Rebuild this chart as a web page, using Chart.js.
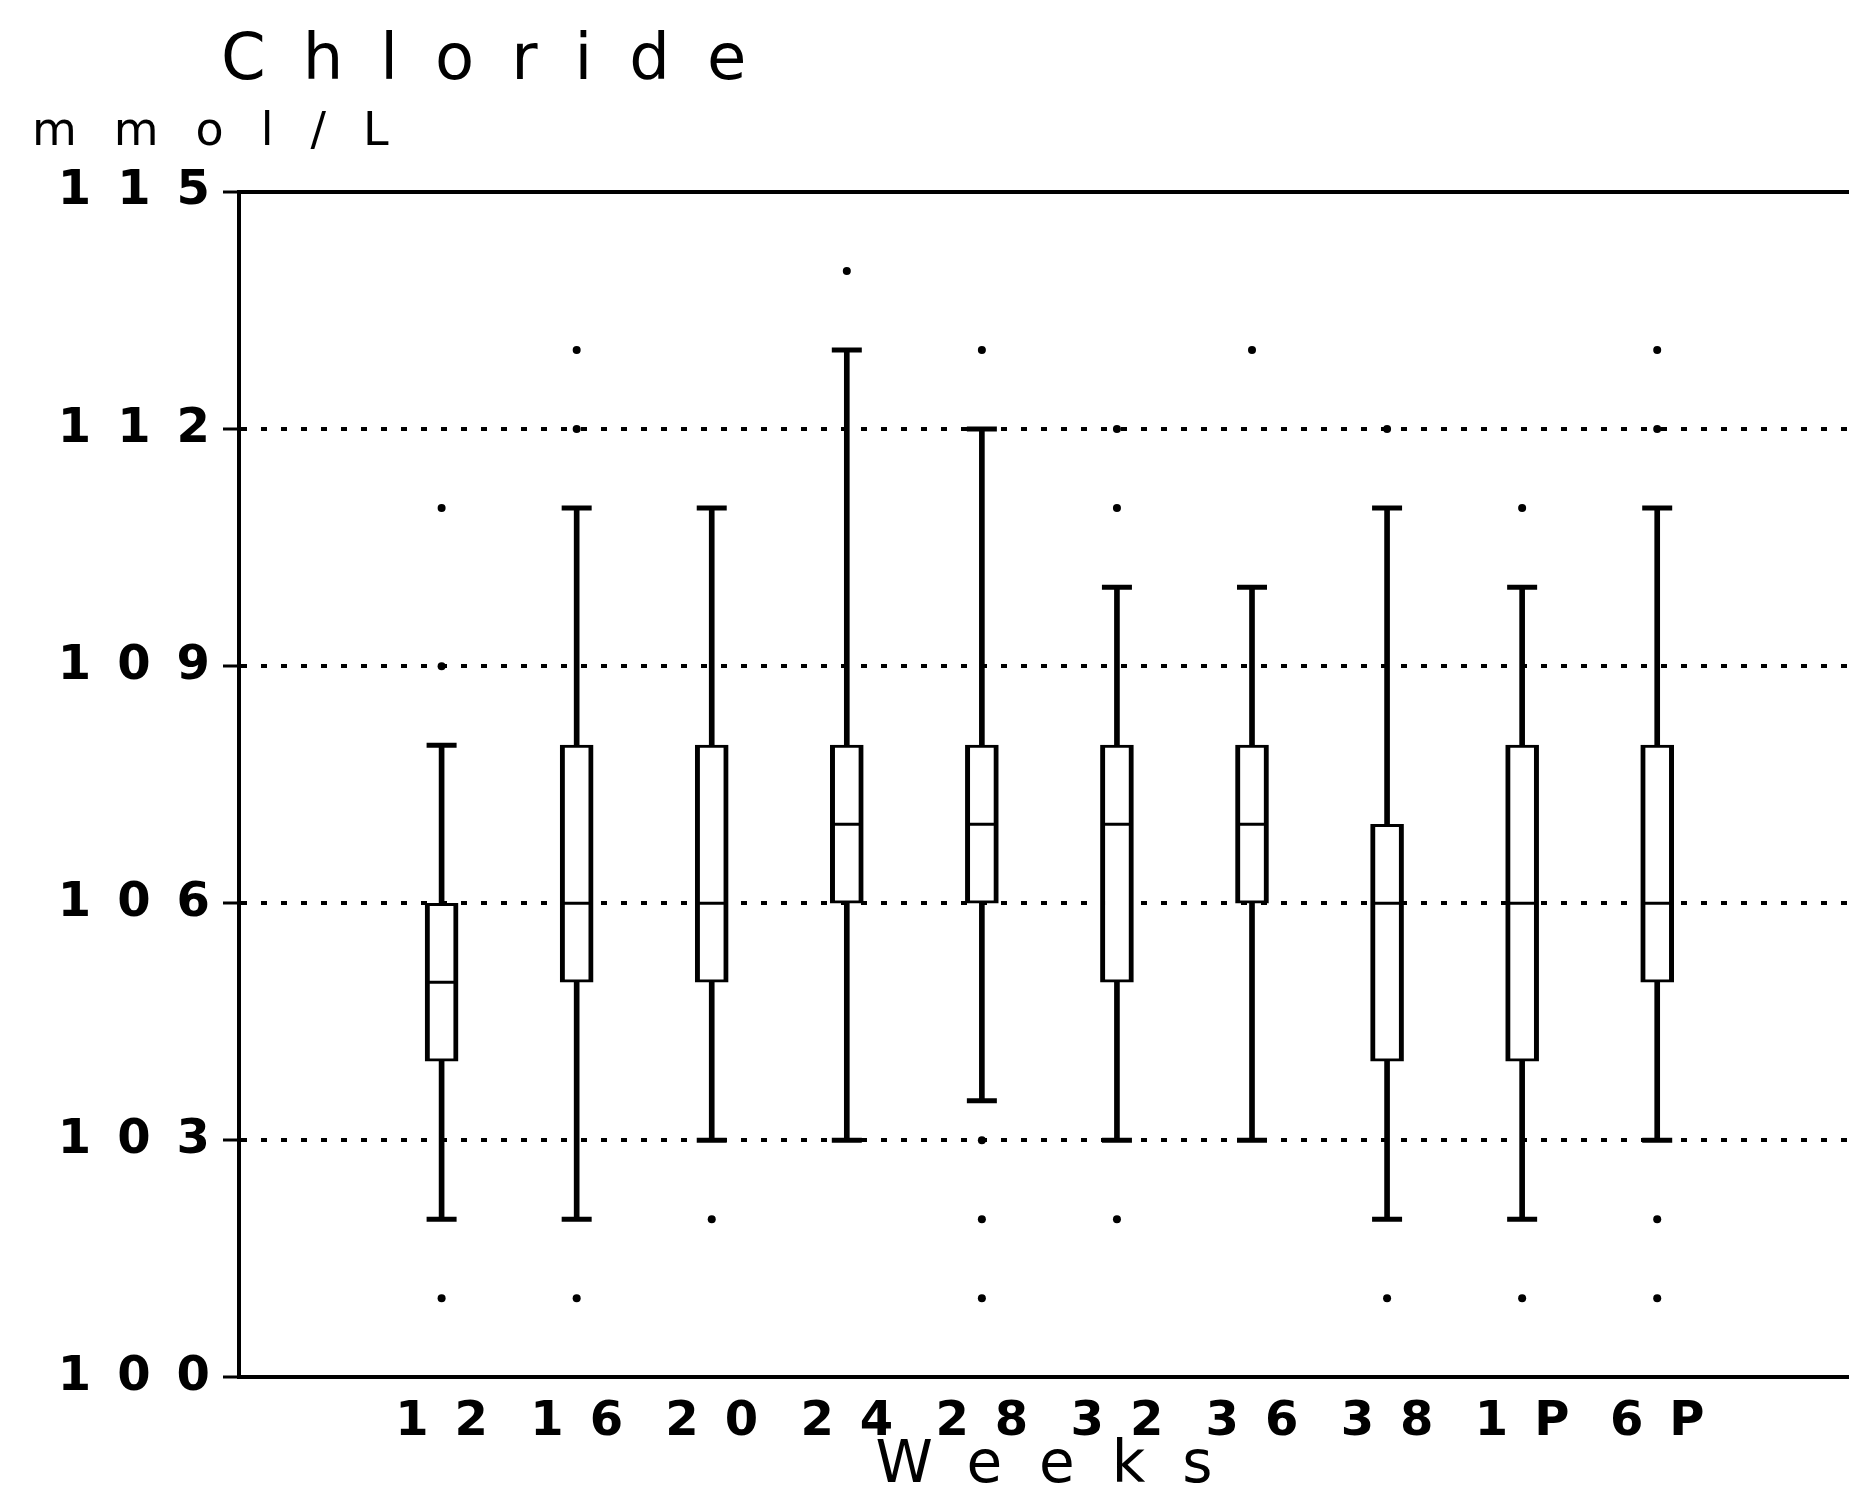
<!DOCTYPE html>
<html>
<head>
<meta charset="utf-8">
<title>Chloride</title>
<script src="https://cdn.jsdelivr.net/npm/chart.js@4.4.1/dist/chart.umd.min.js"></script>
<style>
    html, body { margin: 0; padding: 0; background: #fff; }
    canvas { display: block; }
</style>
</head>
<body>
<canvas id="chlorideChart" width="1849" height="1503"></canvas>
<script>
// weeks of pregnancy, 1P / 6P = postpartum
const weeks = ['12', '16', '20', '24', '28', '32', '36', '38', '1P', '6P'];

const whiskerLow  = [102, 102, 103, 103, 103.5, 103, 103, 102, 102, 103];
const quartile1   = [104, 105, 105, 106, 106,   105, 106, 104, 104, 105];
const medians     = [105, 106, 106, 107, 107,   107, 107, 106, 106, 106];
const quartile3   = [106, 108, 108, 108, 108,   108, 108, 107, 108, 108];
const whiskerHigh = [108, 111, 111, 113, 112,   110, 110, 111, 110, 111];
const outliers = [
    [101, 109, 111],
    [101, 112, 113],
    [102],
    [114],
    [101, 102, 103, 113],
    [102, 111, 112],
    [113],
    [101, 112],
    [101, 111],
    [101, 102, 112, 113]
];

const yTicks = [100, 103, 106, 109, 112, 115];

const FONT = "'DejaVu Sans', sans-serif";
const INK = '#000';
const TITLE_SPACING = 37;
const LABEL_SPACING = 26;

// the old plotter font is very wide, so fake it with canvas letterSpacing
function wrapDraw(obj, name, before) {
    if (!obj || obj['_wrapped_' + name]) return;
    const orig = obj[name];
    obj[name] = function (...args) {
        this.ctx.save();
        before(this.ctx);
        orig.apply(this, args);
        this.ctx.restore();
    };
    obj['_wrapped_' + name] = true;
}

const spacing = {
    id: 'spacing',
    beforeUpdate(chart) { chart.ctx.letterSpacing = TITLE_SPACING + 'px'; },
    afterUpdate(chart) {
        const { x, y } = chart.scales;
        // centred text carries one trailing space, push it back
        wrapDraw(x, 'drawLabels', ctx => {
            ctx.letterSpacing = LABEL_SPACING + 'px';
            ctx.translate(LABEL_SPACING / 2, 0);
        });
        wrapDraw(y, 'drawLabels', ctx => { ctx.letterSpacing = LABEL_SPACING + 'px'; });
        wrapDraw(x, 'drawTitle', ctx => { ctx.translate(TITLE_SPACING / 2, 0); });
        wrapDraw(chart.titleBlock, 'draw', ctx => { ctx.translate(-18, 0); });
    },
    beforeDraw(chart) {
        const ctx = chart.ctx;
        ctx.save();
        ctx.fillStyle = '#fff';
        ctx.fillRect(0, 0, chart.width, chart.height);
        ctx.restore();
        ctx.letterSpacing = TITLE_SPACING + 'px';
    }
};

const boxData = weeks.map((w, i) => ({ x: i, y: [quartile1[i], quartile3[i]] }));
const whiskerData = weeks.map((w, i) => ({ x: i, y: [whiskerLow[i], whiskerHigh[i]] }));
const medianData = weeks.map((w, i) => ({ x: i, y: medians[i] }));
const capData = weeks.flatMap((w, i) => [{ x: i, y: whiskerLow[i] }, { x: i, y: whiskerHigh[i] }]);
const outlierData = weeks.flatMap((w, i) => outliers[i].map(v => ({ x: i, y: v })));

new Chart(document.getElementById('chlorideChart'), {
    type: 'bar',
    data: {
        datasets: [
            {
                type: 'scatter',
                data: medianData,
                pointStyle: 'line',
                pointRadius: 14,
                borderColor: INK,
                borderWidth: 3
            },
            {
                type: 'scatter',
                data: capData,
                pointStyle: 'line',
                pointRadius: 15,
                borderColor: INK,
                borderWidth: 5
            },
            {
                type: 'scatter',
                data: outlierData,
                pointStyle: 'circle',
                pointRadius: 4,
                backgroundColor: INK,
                borderColor: INK,
                borderWidth: 0
            },
            {
                data: boxData,
                grouped: false,
                backgroundColor: '#fff',
                borderColor: INK,
                borderWidth: { left: 5, right: 5, top: 3, bottom: 3 },
                borderSkipped: false,
                barThickness: 33,
                maxBarThickness: 33
            },
            {
                data: whiskerData,
                grouped: false,
                backgroundColor: INK,
                borderWidth: 0,
                barThickness: 5,
                maxBarThickness: 5
            }
        ]
    },
    options: {
        responsive: false,
        animation: false,
        devicePixelRatio: 1,
        layout: { autoPadding: false, padding: { left: 32, right: 0, top: 0, bottom: 0 } },
        plugins: {
            legend: { display: false },
            tooltip: { enabled: false },
            title: {
                display: true,
                text: 'Chloride',
                align: 'start',
                fullSize: false,
                color: INK,
                font: { family: FONT, size: 64, weight: 'normal', lineHeight: 1 },
                padding: { top: 30, bottom: 0 }
            },
            subtitle: {
                display: true,
                text: 'mmol/L',
                align: 'start',
                color: INK,
                font: { family: FONT, size: 46, weight: 'normal', lineHeight: 1 },
                padding: { top: 16, bottom: 36 }
            }
        },
        scales: {
            x: {
                type: 'linear',
                position: 'bottom',
                offset: false,
                min: -1.5,
                max: 10.42,
                afterBuildTicks: scale => {
                    scale.ticks = weeks.map((w, i) => ({ value: i }));
                },
                grid: { display: false, drawTicks: true, tickLength: 21, offset: false },
                border: { display: true, color: INK, width: 4 },
                ticks: {
                    autoSkip: false,
                    maxRotation: 0,
                    padding: 0,
                    color: INK,
                    font: { family: FONT, size: 48, weight: 'bold', lineHeight: 1 },
                    callback: value => weeks[value]
                },
                title: {
                    display: true,
                    text: 'Weeks',
                    color: INK,
                    font: { family: FONT, size: 58, weight: 'normal', lineHeight: 0.7 },
                    padding: { top: 0, bottom: 16 }
                }
            },
            xTop: {
                type: 'linear',
                position: 'top',
                display: true,
                offset: false,
                grid: { display: false, drawTicks: false },
                ticks: { display: false },
                border: { display: true, color: INK, width: 4 }
            },
            y: {
                min: 100,
                max: 115,
                afterBuildTicks: scale => {
                    scale.ticks = yTicks.map(v => ({ value: v }));
                },
                afterFit: scale => { scale.width = 207; },
                grid: {
                    color: c => (c.tick && (c.tick.value === 100 || c.tick.value === 115)) ? 'rgba(0,0,0,0)' : INK,
                    lineWidth: 4,
                    tickColor: INK,
                    tickWidth: 3,
                    tickLength: 16,
                    tickBorderDash: []
                },
                border: { display: true, color: INK, width: 4, dash: [6, 14] },
                ticks: {
                    padding: -13,
                    color: INK,
                    font: { family: FONT, size: 48, weight: 'bold' }
                }
            }
        }
    },
    plugins: [spacing]
});
</script>
</body>
</html>
